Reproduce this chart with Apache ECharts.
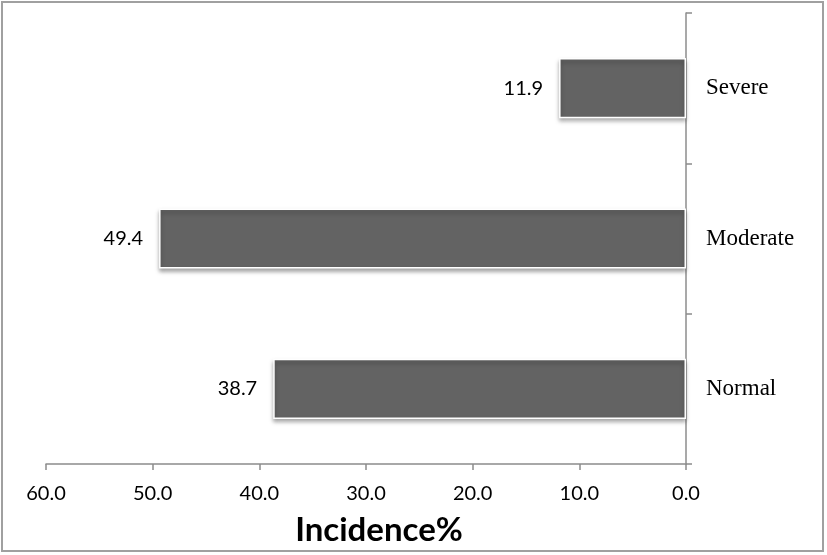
<!DOCTYPE html>
<html>
<head>
<meta charset="utf-8">
<script src="https://cdn.jsdelivr.net/npm/echarts@6/dist/echarts.min.js"></script>
<style>
html,body{margin:0;padding:0;background:#fff;}
#frame{position:absolute;left:1px;top:1px;width:823px;height:551px;border:2px solid #a0a0a0;box-sizing:border-box;}
#chart{position:absolute;left:0;top:0;width:827px;height:555px;}
</style>
</head>
<body>
<div id="frame"></div>
<div id="chart"></div>
<script>
const categories = ['Normal', 'Moderate', 'Severe'];
const incidence = [38.7, 49.4, 11.9];
const axisName = 'Incidence%';

const chart = echarts.init(document.getElementById('chart'), null, {renderer: 'canvas'});
chart.setOption({
  backgroundColor: 'transparent',
  animation: false,
  grid: {left: 46, right: 141, top: 13, bottom: 91, containLabel: false, outerBoundsMode: 'none'},
  xAxis: {
    type: 'value',
    inverse: true,
    min: 0, max: 60, interval: 10,
    name: axisName,
    nameLocation: 'middle',
    nameGap: 50,
    nameTextStyle: {fontFamily: 'Lato', fontWeight: 'bold', fontSize: 33, color: '#000', padding: [0, 0, 0, 26]},
    axisLine: {show: true, lineStyle: {color: '#8c8c8c', width: 1.5}},
    axisTick: {show: true, length: 6, lineStyle: {color: '#8c8c8c', width: 1.5}},
    splitLine: {show: false},
    axisLabel: {
      fontFamily: 'Lato', fontSize: 20, color: '#000', margin: 20,
      formatter: v => v.toFixed(1)
    }
  },
  yAxis: {
    type: 'category',
    position: 'right',
    data: categories,
    axisLine: {show: true, lineStyle: {color: '#8c8c8c', width: 1.5}},
    axisTick: {show: true, inside: false, length: 6, lineStyle: {color: '#8c8c8c', width: 1.5}},
    axisLabel: {fontFamily: 'Liberation Serif', fontSize: 23, color: '#000', margin: 20}
  },
  series: [{
    type: 'bar',
    data: incidence,
    barWidth: '40%',
    itemStyle: {
      color: '#636363',
      borderColor: '#ffffff',
      borderWidth: 1.5,
      shadowColor: 'rgba(0,0,0,0.35)',
      shadowBlur: 4,
      shadowOffsetY: 3,
      shadowOffsetX: 0
    },
    label: {
      show: true,
      position: 'left',
      distance: 16,
      fontFamily: 'Lato', fontSize: 20, color: '#000',
      formatter: p => p.value.toFixed(1)
    }
  }]
});
</script>
</body>
</html>
